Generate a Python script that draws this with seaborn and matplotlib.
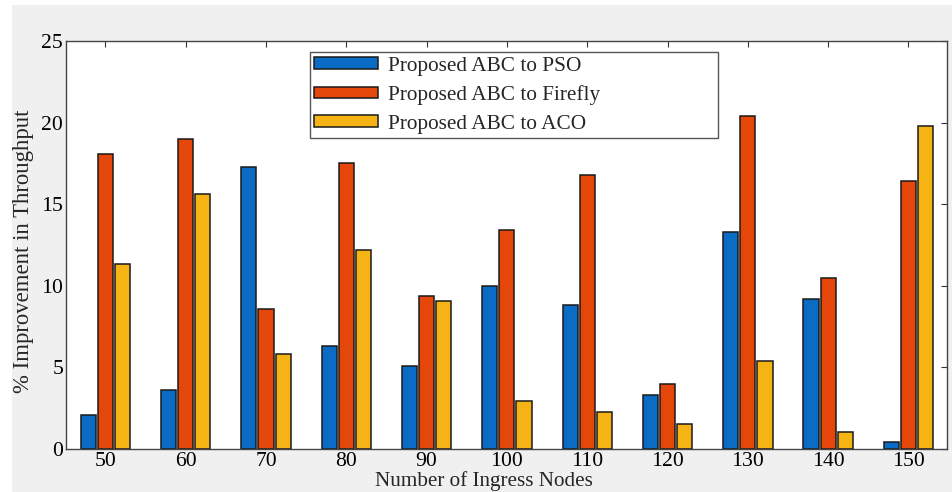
import numpy as np
import pandas as pd
import matplotlib
matplotlib.use("Agg")
import matplotlib.pyplot as plt
from matplotlib.patches import Rectangle
import seaborn as sns

nodes = [50, 60, 70, 80, 90, 100, 110, 120, 130, 140, 150]
pso = [2.1, 3.6, 17.3, 6.3, 5.1, 10.0, 8.8, 3.3, 13.3, 9.2, 0.45]
firefly = [18.1, 19.0, 8.6, 17.5, 9.4, 13.4, 16.8, 4.0, 20.4, 10.5, 16.4]
aco = [11.35, 15.65, 5.8, 12.2, 9.05, 2.95, 2.25, 1.55, 5.4, 1.05, 19.8]
series_names = ["Proposed ABC to PSO", "Proposed ABC to Firefly", "Proposed ABC to ACO"]
colors = ["#0A6CC4", "#E5470A", "#F6B414"]
yticks = [0, 5, 10, 15, 20, 25]

rows = []
for name, vals in zip(series_names, [pso, firefly, aco]):
    for n, v in zip(nodes, vals):
        rows.append({"nodes": str(n), "value": v, "series": name})
df = pd.DataFrame(rows)

sns.set_theme(style="white")
plt.rcParams["font.family"] = ["Liberation Serif", "DejaVu Serif"]

fig = plt.figure(figsize=(9.53, 4.92), dpi=100)
fig.patch.set_facecolor("white")
fig.add_artist(Rectangle((12 / 953, 0), 1, 1 - 5 / 492, transform=fig.transFigure,
                         facecolor="#f0f0f0", edgecolor="none", zorder=-10))
ax = fig.add_axes([66 / 953, 1 - 449 / 492, 881 / 953, 408 / 492])
ax.set_facecolor("white")

sns.barplot(data=df, x="nodes", y="value", hue="series", hue_order=series_names,
            palette=colors, width=0.64, gap=0.12, edgecolor="#1a1a1a",
            linewidth=1.1, ax=ax, saturation=1)

ax.set_xlim(-0.49, 10.48)
ax.set_ylim(0, 25)
ax.set_yticks(yticks)
ax.set_yticklabels([str(t) for t in yticks])
ax.tick_params(axis="both", direction="in", length=4, width=0.8, colors="#333333",
               labelsize=15.6, labelcolor="black", top=True, right=True,
               labeltop=False, labelright=False, pad=2)
for s in ax.spines.values():
    s.set_color("#444444")
    s.set_linewidth(1.0)

ax.set_xlabel("Number of Ingress Nodes", fontsize=15.2)
ax.xaxis.set_label_coords(0.474, -0.054)
ax.set_ylabel("% Improvement in Throughput", fontsize=16.4)
ax.yaxis.set_label_coords(-0.036, 0.485)

leg = ax.legend(loc="upper left", bbox_to_anchor=(0.277, 0.972, 0.463, 0.0),
                mode="expand", fontsize=15.3,
                frameon=True, fancybox=False, framealpha=1, edgecolor="#555555",
                handlelength=3.0, handleheight=0.47, labelspacing=0.45,
                borderpad=0.2, handletextpad=0.45, borderaxespad=0)
leg.get_frame().set_linewidth(1.0)

fig.savefig("out.png", dpi=100, facecolor=fig.get_facecolor())
